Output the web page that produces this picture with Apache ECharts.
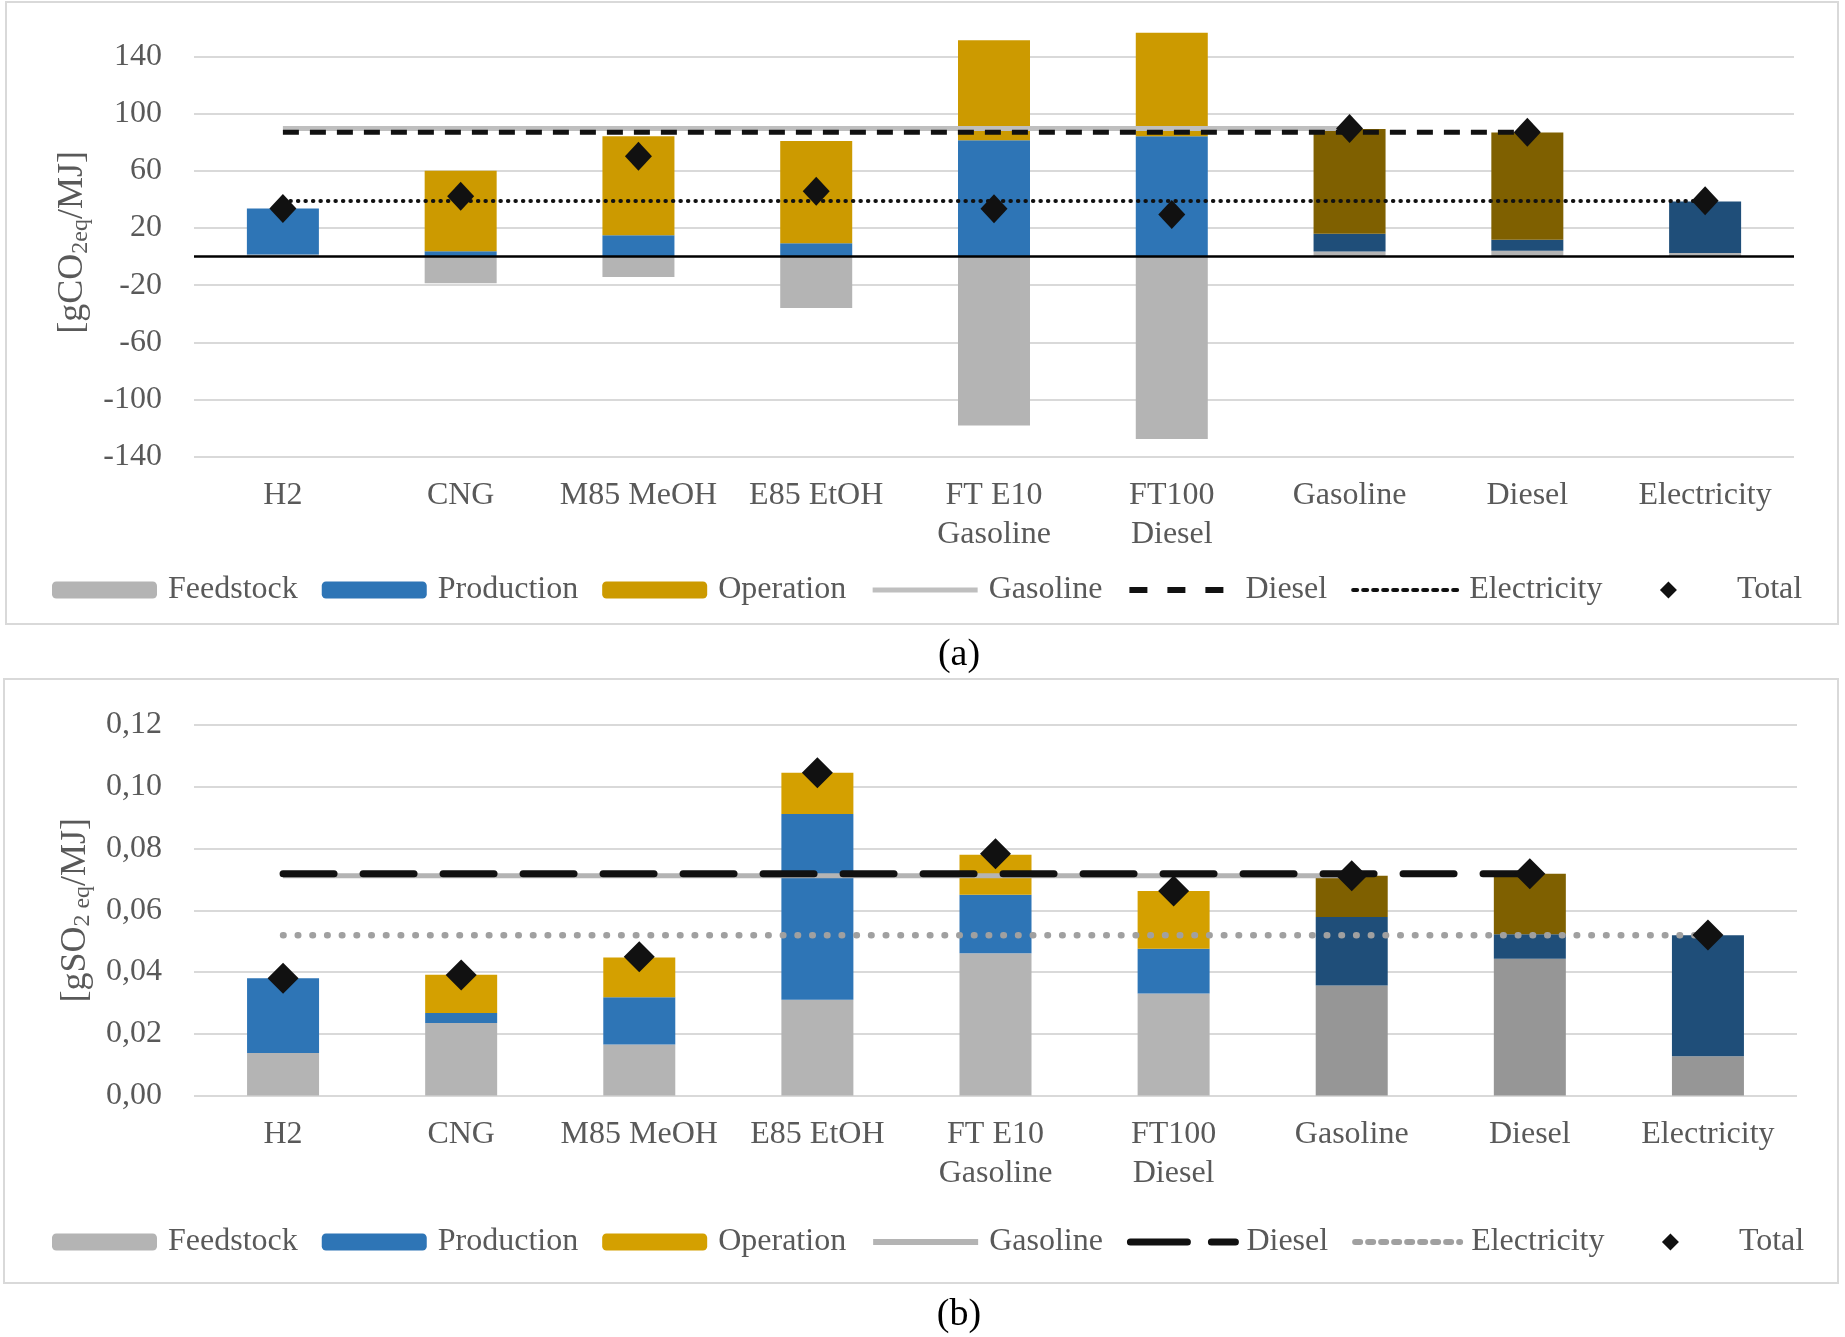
<!DOCTYPE html>
<html><head><meta charset="utf-8">
<script src="https://cdn.jsdelivr.net/npm/echarts@6/dist/echarts.min.js"></script>
<style>
body{margin:0;background:#fff;}
#a{position:absolute;left:0;top:0;width:1845px;height:690px;}
#b{position:absolute;left:0;top:665px;width:1845px;height:672px;}
</style></head><body>
<div id="a"></div><div id="b"></div>
<script>
const categories = ['H2','CNG','M85 MeOH','E85 EtOH','FT E10\nGasoline','FT100\nDiesel','Gasoline','Diesel','Electricity'];
const fossil = [false,false,false,false,false,false,true,true,true];
const legendNames = ['Feedstock','Production','Operation','Gasoline','Diesel','Electricity','Total'];

// (a) GHG emissions [gCO2eq/MJ]
const feedstockA  = [1.5, -18.6, -14.3, -36.0, -118.3, -127.7, 3.5, 4.0, 2.5];
const productionA = [32.2, 3.7, 14.9, 9.4, 81.4, 84.3, 12.5, 7.7, 36.1];
const operationA  = [0, 56.3, 69.4, 71.5, 70.0, 72.3, 73.3, 75.2, 0];
const totalA      = [33.7, 42.3, 70.3, 45.7, 33.4, 29.4, 89.7, 87.1, 39.1];
const gasolineRefA    = [89.7, 89.7, 89.7, 89.7, 89.7, 89.7, 89.7, null, null];
const dieselRefA      = [87.1, 87.1, 87.1, 87.1, 87.1, 87.1, 87.1, 87.1, null];
const electricityRefA = [38.9, 38.9, 38.9, 38.9, 38.9, 38.9, 38.9, 38.9, 38.9];
const yTicksA = [-140, -100, -60, -20, 20, 60, 100, 140];

// (b) Acidification [gSO2eq/MJ]
const feedstockB  = [0.0138, 0.0235, 0.0165, 0.0310, 0.0461, 0.0330, 0.0356, 0.0443, 0.0127];
const productionB = [0.0242, 0.0032, 0.0153, 0.0602, 0.0189, 0.0145, 0.0222, 0.0079, 0.0392];
const operationB  = [0, 0.0124, 0.0129, 0.0133, 0.0130, 0.0187, 0.0134, 0.0196, 0];
const totalB      = [0.0380, 0.0390, 0.0449, 0.1045, 0.0783, 0.0662, 0.0712, 0.0718, 0.0520];
const gasolineRefB    = [0.0712, 0.0712, 0.0712, 0.0712, 0.0712, 0.0712, 0.0712, null, null];
const dieselRefB      = [0.0718, 0.0718, 0.0718, 0.0718, 0.0718, 0.0718, 0.0718, 0.0718, null];
const electricityRefB = [0.0519, 0.0519, 0.0519, 0.0519, 0.0519, 0.0519, 0.0519, 0.0519, 0.0519];

const FONT = '"Liberation Serif", "Times New Roman", serif';
const TXT = '#595959';
const GRID = '#D9D9D9';
// legend diamond drawn inside a 105x17 box (tiny zero-area segments fix the box size)
const DIAMOND = 'path://M0,8.5 L0.01,8.5 L0,8.5 Z M47,-1 L56.5,8.5 L47,18 L37.5,8.5 Z M105,8.5 L105.01,8.5 L105,8.5 Z';

function items(vals, darkColor) {
  return vals.map((v, i) => fossil[i] ? {value: v, itemStyle: {color: darkColor}} : v);
}

function legend(top, ls) {
  const hidden = {color: 'rgba(0,0,0,0)', borderWidth: 0, opacity: 0};
  return {
    data: [
      {name: 'Feedstock'}, {name: 'Production'}, {name: 'Operation'},
      {name: 'Gasoline', itemStyle: hidden, lineStyle: ls.gas},
      {name: 'Diesel', itemStyle: hidden, lineStyle: ls.dies},
      {name: 'Electricity', itemStyle: hidden, lineStyle: ls.elec},
      {name: 'Total', icon: DIAMOND}
    ],
    top: top, left: 47, itemWidth: 105, itemHeight: 17, itemGap: 24,
    selectedMode: false,
    textStyle: {fontFamily: FONT, fontSize: 32, color: TXT, padding: [0, 0, 0, 6]}
  };
}

function yName(nameStr, gap) {
  return {
    name: nameStr, nameLocation: 'middle', nameRotate: 90, nameGap: gap,
    nameTextStyle: {
      rich: {
        m: {fontFamily: FONT, fontSize: 36, color: TXT, lineHeight: 40, verticalAlign: 'middle'},
        s: {fontFamily: FONT, fontSize: 24, color: TXT, lineHeight: 24, verticalAlign: 'bottom'}
      }
    }
  };
}

const xAxisCommon = {
  type: 'category', data: categories,
  axisLine: {show: false}, axisTick: {show: false},
  axisLabel: {fontFamily: FONT, fontSize: 32, color: TXT, lineHeight: 39, interval: 0}
};

// ---------- Chart A ----------
const chartA = echarts.init(document.getElementById('a'), null, {renderer: 'canvas'});
chartA.setOption({
  animation: false,
  graphic: [
    {type: 'rect', shape: {x: 6, y: 2, width: 1832, height: 622}, style: {fill: 'none', stroke: GRID, lineWidth: 2}, silent: true},
    {type: 'text', x: 959, y: 655, style: {text: '(a)', fontFamily: FONT, fontSize: 38, fill: '#000', align: 'center', verticalAlign: 'middle'}}
  ],
  grid: {left: 194, right: 51, top: 28, height: 428.6},
  legend: legend(569, {
    gas: {color: '#BFBFBF', width: 5, type: 'solid'},
    dies: {color: '#111', width: 6, type: [18, 20]},
    elec: {color: '#111', width: 4, type: [4, 6]}
  }),
  xAxis: Object.assign({}, xAxisCommon, {axisLabel: Object.assign({}, xAxisCommon.axisLabel, {margin: 19})}),
  yAxis: Object.assign({
    type: 'value', min: -140, max: 160, interval: 20,
    splitLine: {show: false}, axisLine: {show: false}, axisTick: {show: false},
    axisLabel: {fontFamily: FONT, fontSize: 32, color: TXT, margin: 32,
      formatter: v => yTicksA.indexOf(v) >= 0 ? String(v) : ''}
  }, yName('{m|[gCO}{s|2eq}{m|/MJ]}', 98)),
  series: [
    {type: 'line', name: 'grid', data: [], z: 0, silent: true,
      markLine: {silent: true, z: 0, symbol: 'none', label: {show: false}, animation: false,
        lineStyle: {color: GRID, width: 2, type: 'solid'},
        data: yTicksA.map(v => ({yAxis: v}))}},
    {type: 'bar', name: 'Feedstock', stack: 's', barWidth: 72, data: items(feedstockA, '#B4B4B4'), itemStyle: {color: '#B4B4B4'}, z: 2},
    {type: 'bar', name: 'Production', stack: 's', barWidth: 72, data: items(productionA, '#1F4E79'), itemStyle: {color: '#2E75B6'}, z: 2},
    {type: 'bar', name: 'Operation', stack: 's', barWidth: 72, data: items(operationA, '#7F6000'), itemStyle: {color: '#CC9A00'}, z: 2},
    {type: 'line', name: 'zero', data: [], z: 3, silent: true,
      markLine: {silent: true, z: 3, symbol: 'none', label: {show: false}, animation: false,
        lineStyle: {color: '#000', width: 2.5, type: 'solid'}, data: [{yAxis: 0}]}},
    {type: 'line', name: 'Gasoline', data: gasolineRefA, symbol: 'none', z: 3,
      lineStyle: {color: '#BFBFBF', width: 5}, itemStyle: {color: '#BFBFBF'}},
    {type: 'line', name: 'Diesel', data: dieselRefA, symbol: 'none', z: 3,
      lineStyle: {color: '#111', width: 5, type: [16, 11]}, itemStyle: {color: '#111'}},
    {type: 'line', name: 'Electricity', data: electricityRefA, symbol: 'none', z: 3,
      lineStyle: {color: '#111', width: 4, type: [0.5, 7], cap: 'round'}, itemStyle: {color: '#111'}},
    {type: 'scatter', name: 'Total', data: totalA, symbol: 'diamond', symbolSize: [27, 29], z: 5,
      itemStyle: {color: '#111', opacity: 1}}
  ]
});

// ---------- Chart B ----------
const chartB = echarts.init(document.getElementById('b'), null, {renderer: 'canvas'});
chartB.setOption({
  animation: false,
  graphic: [
    {type: 'rect', shape: {x: 4, y: 14, width: 1834, height: 604}, style: {fill: 'none', stroke: GRID, lineWidth: 2}, silent: true},
    {type: 'text', x: 959, y: 650, style: {text: '(b)', fontFamily: FONT, fontSize: 38, fill: '#000', align: 'center', verticalAlign: 'middle'}}
  ],
  grid: {left: 194, right: 48, top: 60, height: 370.5},
  legend: legend(556, {
    gas: {color: '#B4B4B4', width: 6, type: 'solid'},
    dies: {color: '#111', width: 7, type: [57, 24]},
    elec: {color: '#A0A0A0', width: 6, type: [5, 8]}
  }),
  xAxis: Object.assign({}, xAxisCommon, {axisLabel: Object.assign({}, xAxisCommon.axisLabel, {margin: 20})}),
  yAxis: Object.assign({
    type: 'value', min: 0, max: 0.12, interval: 0.02,
    splitLine: {show: true, lineStyle: {color: GRID, width: 2}}, axisLine: {show: false}, axisTick: {show: false},
    axisLabel: {fontFamily: FONT, fontSize: 32, color: TXT, margin: 32,
      formatter: v => v.toFixed(2).replace('.', ',')}
  }, yName('{m|[gSO}{s|2 eq}{m|/MJ]}', 98)),
  series: [
    {type: 'bar', name: 'Feedstock', stack: 's', barWidth: 72, data: items(feedstockB, '#969696'), itemStyle: {color: '#B4B4B4'}, z: 2},
    {type: 'bar', name: 'Production', stack: 's', barWidth: 72, data: items(productionB, '#1F4E79'), itemStyle: {color: '#2E75B6'}, z: 2},
    {type: 'bar', name: 'Operation', stack: 's', barWidth: 72, data: items(operationB, '#7F6000'), itemStyle: {color: '#D4A000'}, z: 2},
    {type: 'line', name: 'Gasoline', data: gasolineRefB, symbol: 'none', z: 3,
      lineStyle: {color: '#B4B4B4', width: 5}, itemStyle: {color: '#B4B4B4'}},
    {type: 'line', name: 'Diesel', data: dieselRefB, symbol: 'none', z: 3,
      lineStyle: {color: '#111', width: 7, type: [51, 29], cap: 'round'}, itemStyle: {color: '#111'}},
    {type: 'line', name: 'Electricity', data: electricityRefB, symbol: 'none', z: 3,
      lineStyle: {color: '#A0A0A0', width: 6.5, type: [0.5, 14.2], cap: 'round'}, itemStyle: {color: '#A0A0A0'}},
    {type: 'scatter', name: 'Total', data: totalB, symbol: 'diamond', symbolSize: [31, 31], z: 5,
      itemStyle: {color: '#111', opacity: 1}}
  ]
});
</script>
</body></html>
